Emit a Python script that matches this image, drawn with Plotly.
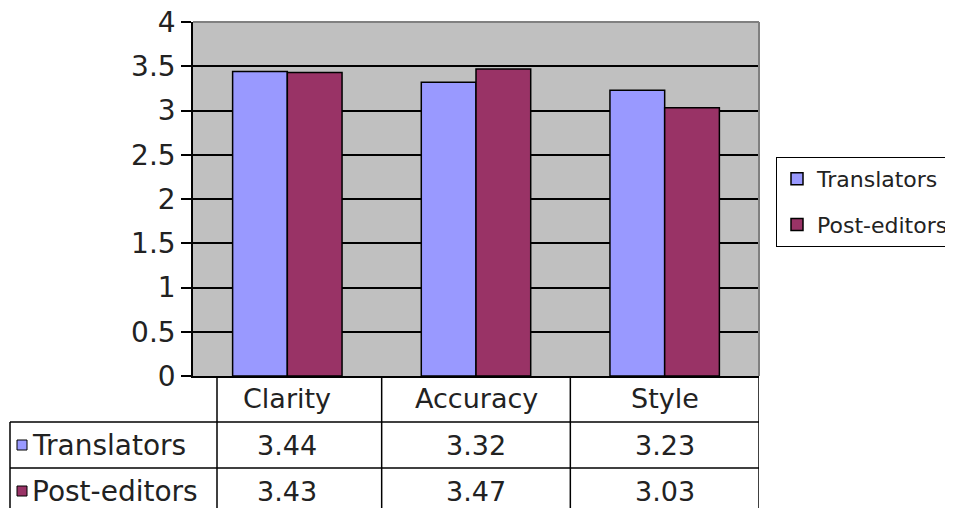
import plotly.graph_objects as go

# data
categories = ["Clarity", "Accuracy", "Style"]
series_names = ["Translators", "Post-editors"]
translators = [3.44, 3.32, 3.23]
post_editors = [3.43, 3.47, 3.03]
y_ticks = [0, 0.5, 1, 1.5, 2, 2.5, 3, 3.5, 4]
y_tick_labels = ["0", "0.5", "1", "1.5", "2", "2.5", "3", "3.5", "4"]

colors = {"Translators": "#9999FF", "Post-editors": "#993366"}
values = {"Translators": translators, "Post-editors": post_editors}

FONT = "DejaVu Sans"
TXT = "#222222"

fig = go.Figure()
for name in series_names:
    fig.add_trace(go.Bar(
        x=categories, y=values[name], name=name,
        marker=dict(color=colors[name], line=dict(color="black", width=1.5)),
        legendgroup=name,
    ))

# page has an 8px body margin; figure is sized to fit the window
OFF = 8
W, H = 953 - OFF, 508 - OFF
# plot area in page pixels: 193..759 wide, 22..376 tall
L, T = 193 - OFF, 22 - OFF
R, B = W - (759 - OFF), H - (376 - OFF)
pw, ph = W - L - R, H - T - B

def px(x):  # page pixel -> paper x
    return (x - OFF - L) / pw

def py(y):  # page pixel -> paper y
    return (H - B - (y - OFF)) / ph

shapes = []
annotations = []

# gray border on top and right of plot area
shapes.append(dict(type="line", xref="paper", yref="paper", x0=0, x1=1, y0=1, y1=1,
                   line=dict(color="#808080", width=2)))
shapes.append(dict(type="line", xref="paper", yref="paper", x0=1, x1=1, y0=0, y1=1,
                   line=dict(color="#808080", width=2)))

# data table grid
line = dict(color="black", width=1.5)
bottom = py(530)
shapes.append(dict(type="line", xref="paper", yref="paper", x0=px(217), x1=px(217),
                   y0=0, y1=bottom, line=line))
for i in range(len(categories)):
    xb = i + 0.5
    shapes.append(dict(type="line", xref="x", yref="paper", x0=xb, x1=xb,
                       y0=0, y1=bottom, line=line))
for yl in [422, 468]:
    shapes.append(dict(type="line", xref="paper", yref="paper", x0=px(10), x1=1,
                       y0=py(yl), y1=py(yl), line=line))
shapes.append(dict(type="line", xref="paper", yref="paper", x0=px(10), x1=px(10),
                   y0=py(422), y1=bottom, line=line))

# header row
for c in categories:
    annotations.append(dict(x=c, xref="x", y=py(399), yref="paper", text=c,
                            showarrow=False, font=dict(size=27, color=TXT, family=FONT),
                            xanchor="center", yanchor="middle"))

# value rows
row_centers = [445, 491]
for name, yc in zip(series_names, row_centers):
    shapes.append(dict(type="rect", xref="paper", yref="paper",
                       x0=px(17), x1=px(27), y0=py(yc - 5), y1=py(yc + 5),
                       fillcolor=colors[name], line=dict(color="black", width=1)))
    annotations.append(dict(x=px(30), xref="paper", y=py(yc), yref="paper", text=name,
                            showarrow=False, font=dict(size=28, color=TXT, family=FONT),
                            xanchor="left", yanchor="middle"))
    for c, v in zip(categories, values[name]):
        annotations.append(dict(x=c, xref="x", y=py(yc), yref="paper", text=f"{v:.2f}",
                                showarrow=False, font=dict(size=27, color=TXT, family=FONT),
                                xanchor="center", yanchor="middle"))

fig.update_layout(
    width=W, height=H,
    margin=dict(l=L, r=R, t=T, b=B, pad=0, autoexpand=False),
    paper_bgcolor="white",
    plot_bgcolor="#C0C0C0",
    barmode="group",
    bargap=0.42,
    bargroupgap=0,
    font=dict(family=FONT, color=TXT),
    showlegend=True,
    legend=dict(
        x=px(776), y=py(157), xanchor="left", yanchor="top",
        bgcolor="white", bordercolor="black", borderwidth=1,
        font=dict(size=22, color=TXT, family=FONT),
        tracegroupgap=14, itemwidth=30,
    ),
    shapes=shapes,
    annotations=annotations,
)
fig.update_xaxes(showticklabels=False, showgrid=False, ticks="",
                 showline=True, linecolor="black", linewidth=1.5,
                 range=[-0.5, 2.5], automargin=False)
fig.update_yaxes(range=[0, 4], tickvals=y_ticks, ticktext=y_tick_labels,
                 showgrid=True, gridcolor="black", gridwidth=1.5,
                 showline=True, linecolor="black", linewidth=1.5,
                 ticks="outside", ticklen=10, tickcolor="black", tickwidth=1.5,
                 tickfont=dict(size=28, color=TXT, family=FONT),
                 ticklabeloverflow="allow",
                 zeroline=False, automargin=False)

fig.write_html("out.html")
